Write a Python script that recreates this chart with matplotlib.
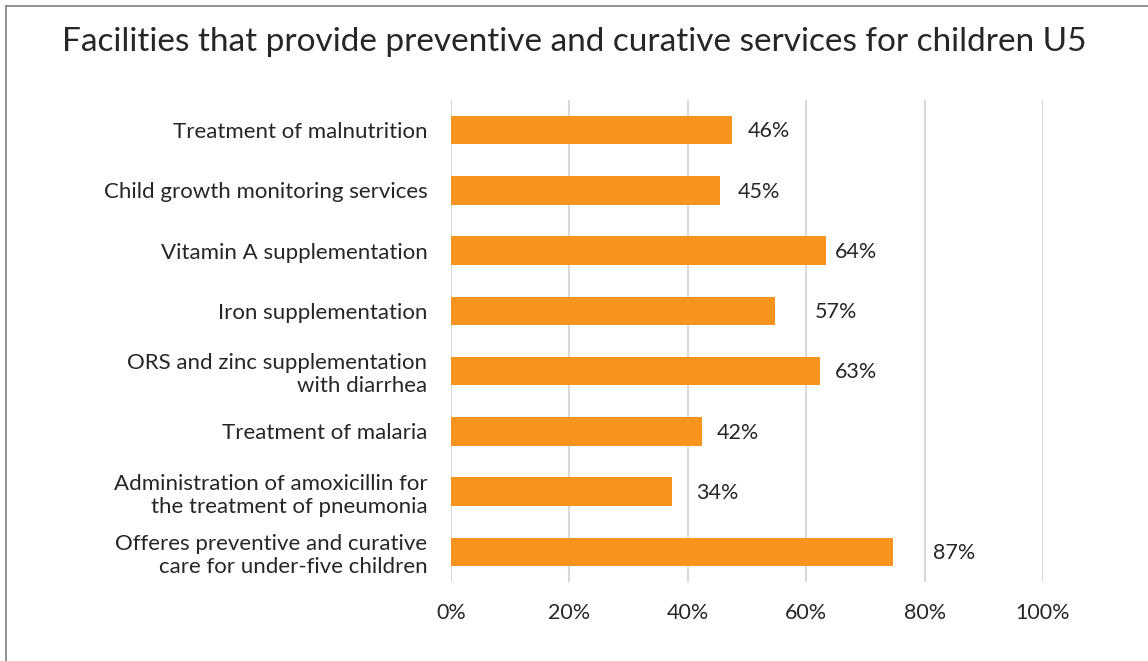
import matplotlib.pyplot as plt
from matplotlib.lines import Line2D

# --- data (top to bottom as in the chart) ---
categories = [
    "Treatment of malnutrition",
    "Child growth monitoring services",
    "Vitamin A supplementation",
    "Iron supplementation",
    "ORS and zinc supplementation\nwith diarrhea",
    "Treatment of malaria",
    "Administration of amoxicillin for\nthe treatment of pneumonia",
    "Offeres preventive and curative\ncare for under-five children",
]
bar_values = [47.4, 45.4, 63.4, 54.8, 62.4, 42.4, 37.3, 74.6]   # drawn length (%)
value_labels = ["46%", "45%", "64%", "57%", "63%", "42%", "34%", "87%"]
label_gap = [2.8, 3.1, 1.4, 6.7, 2.4, 2.5, 4.1, 6.9]  # where the labels sit past the bar end
x_ticks = [0, 20, 40, 60, 80, 100]

bar_color = "#F7941D"
text_color = "#262626"
grid_color = "#D9D9D9"
plt.rcParams['font.family'] = ['Lato', 'DejaVu Sans']

W, H = 1148, 661
fig = plt.figure(figsize=(W / 100, H / 100), dpi=100)
ax = fig.add_axes([451 / W, (H - 582) / H, (1043 - 451) / W, (582 - 100) / H])

ypos = list(range(len(categories)))
ax.barh(ypos, bar_values, height=0.47, color=bar_color, zorder=3)

for y, v, lab, gap in zip(ypos, bar_values, value_labels, label_gap):
    ax.text(v + gap, y + 0.02, lab, va="center", ha="left", fontsize=15.5, color=text_color)

ax.set_xlim(0, 100)
ax.set_ylim(len(categories) - 0.5, -0.5)
ax.set_xticks(x_ticks)
ax.set_xticklabels([f"{t}%" for t in x_ticks])
ax.set_yticks(ypos)
ax.set_yticklabels(categories, linespacing=1.2)
ax.tick_params(axis="x", length=0, pad=15, labelsize=15.5, labelcolor=text_color)
ax.tick_params(axis="y", length=0, pad=17, labelsize=16, labelcolor=text_color)
ax.grid(axis="x", color=grid_color, linewidth=1.5, zorder=0)
for s in ax.spines.values():
    s.set_visible(False)

fig.text(0.5, 1 - 42 / H, "Facilities that provide preventive and curative services for children U5",
         ha="center", va="center", fontsize=24, color=text_color)

# chart frame (only top and left edges show in the crop)
fig.add_artist(Line2D([6 / W, 1], [1 - 6 / H, 1 - 6 / H], transform=fig.transFigure, color="#7F7F7F", lw=1.2))
fig.add_artist(Line2D([6 / W, 6 / W], [0, 1 - 6 / H], transform=fig.transFigure, color="#7F7F7F", lw=1.2))

fig.savefig("out.png", dpi=100)
